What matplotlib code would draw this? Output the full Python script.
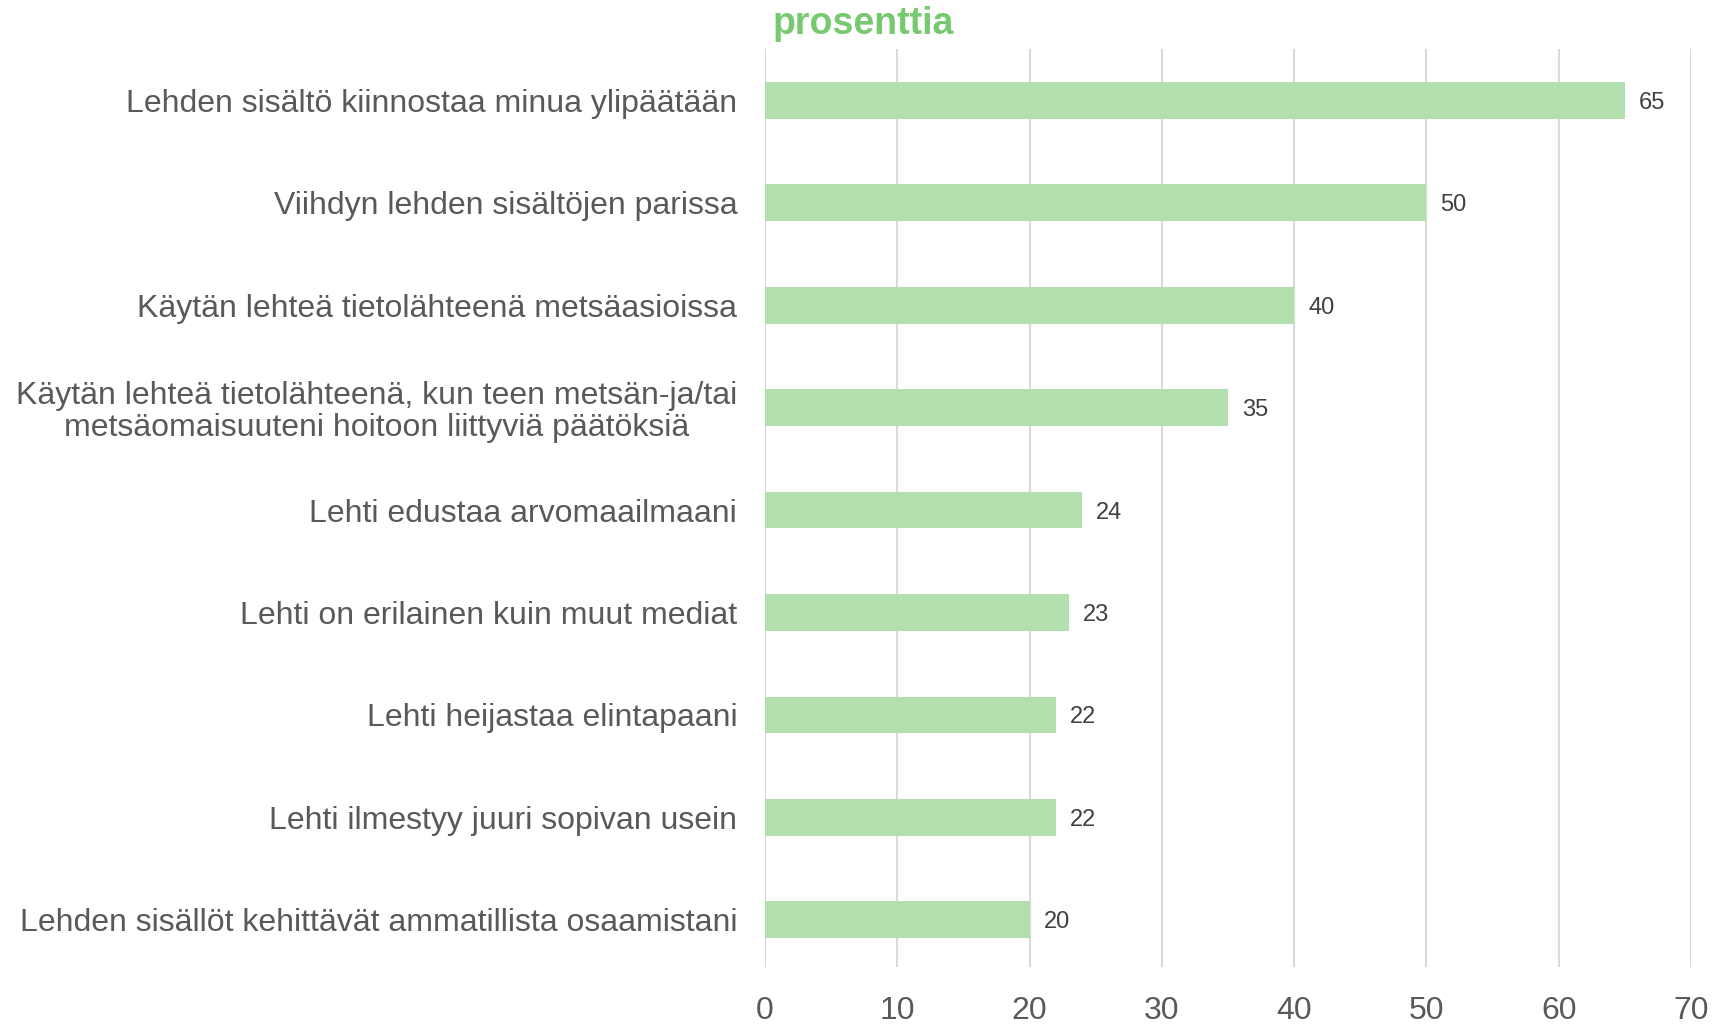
import matplotlib.pyplot as plt

plt.rcParams["font.family"] = ["Liberation Sans", "DejaVu Sans"]

# data (order top -> bottom)
labels = [
    "Lehden sisältö kiinnostaa minua ylipäätään",
    "Viihdyn lehden sisältöjen parissa",
    "Käytän lehteä tietolähteenä metsäasioissa",
    "Käytän lehteä tietolähteenä, kun teen metsän-ja/tai\nmetsäomaisuuteni hoitoon liittyviä päätöksiä",
    "Lehti edustaa arvomaailmaani",
    "Lehti on erilainen kuin muut mediat",
    "Lehti heijastaa elintapaani",
    "Lehti ilmestyy juuri sopivan usein",
    "Lehden sisällöt kehittävät ammatillista osaamistani",
]
values = [65, 50, 40, 35, 24, 23, 22, 22, 20]
xticks = [0, 10, 20, 30, 40, 50, 60, 70]

text_color = "#595959"
bar_color = "#b1e0ae"

fig = plt.figure(figsize=(17.14, 10.25), dpi=100)
ax = fig.add_axes([0.4463, 0.0566, 0.5403, 0.8956])

pos = list(range(len(labels)))
bars = ax.barh(pos, values, height=0.36, color=bar_color, zorder=2)
vlabels = ax.bar_label(bars, labels=[str(v) for v in values], padding=10,
                       fontsize=17, color="#404040")
for t in vlabels:
    t.set_va("center_baseline")

ax.set_xlim(0, 70)
ax.set_ylim(8.46, -0.5)
ax.set_xticks(xticks)
ax.set_yticks(pos)
ax.set_yticklabels(labels, fontsize=23, color=text_color)
for t in ax.get_yticklabels():
    t.set_multialignment("center")
    t.set_linespacing(1.1)
ax.tick_params(axis="x", length=0, pad=21, labelsize=23, labelcolor=text_color)
ax.tick_params(axis="y", length=0, pad=20)

ax.grid(axis="x", color="#d9d9d9", linewidth=1.5, zorder=0)
ax.set_axisbelow(True)
for s in ax.spines.values():
    s.set_visible(False)

fig.text(863 / 1714, 1 - 24 / 1025, "prosenttia", ha="center", va="center",
         fontsize=27, fontweight="bold", color="#77c96f")

plt.savefig("out.png", dpi=100)
